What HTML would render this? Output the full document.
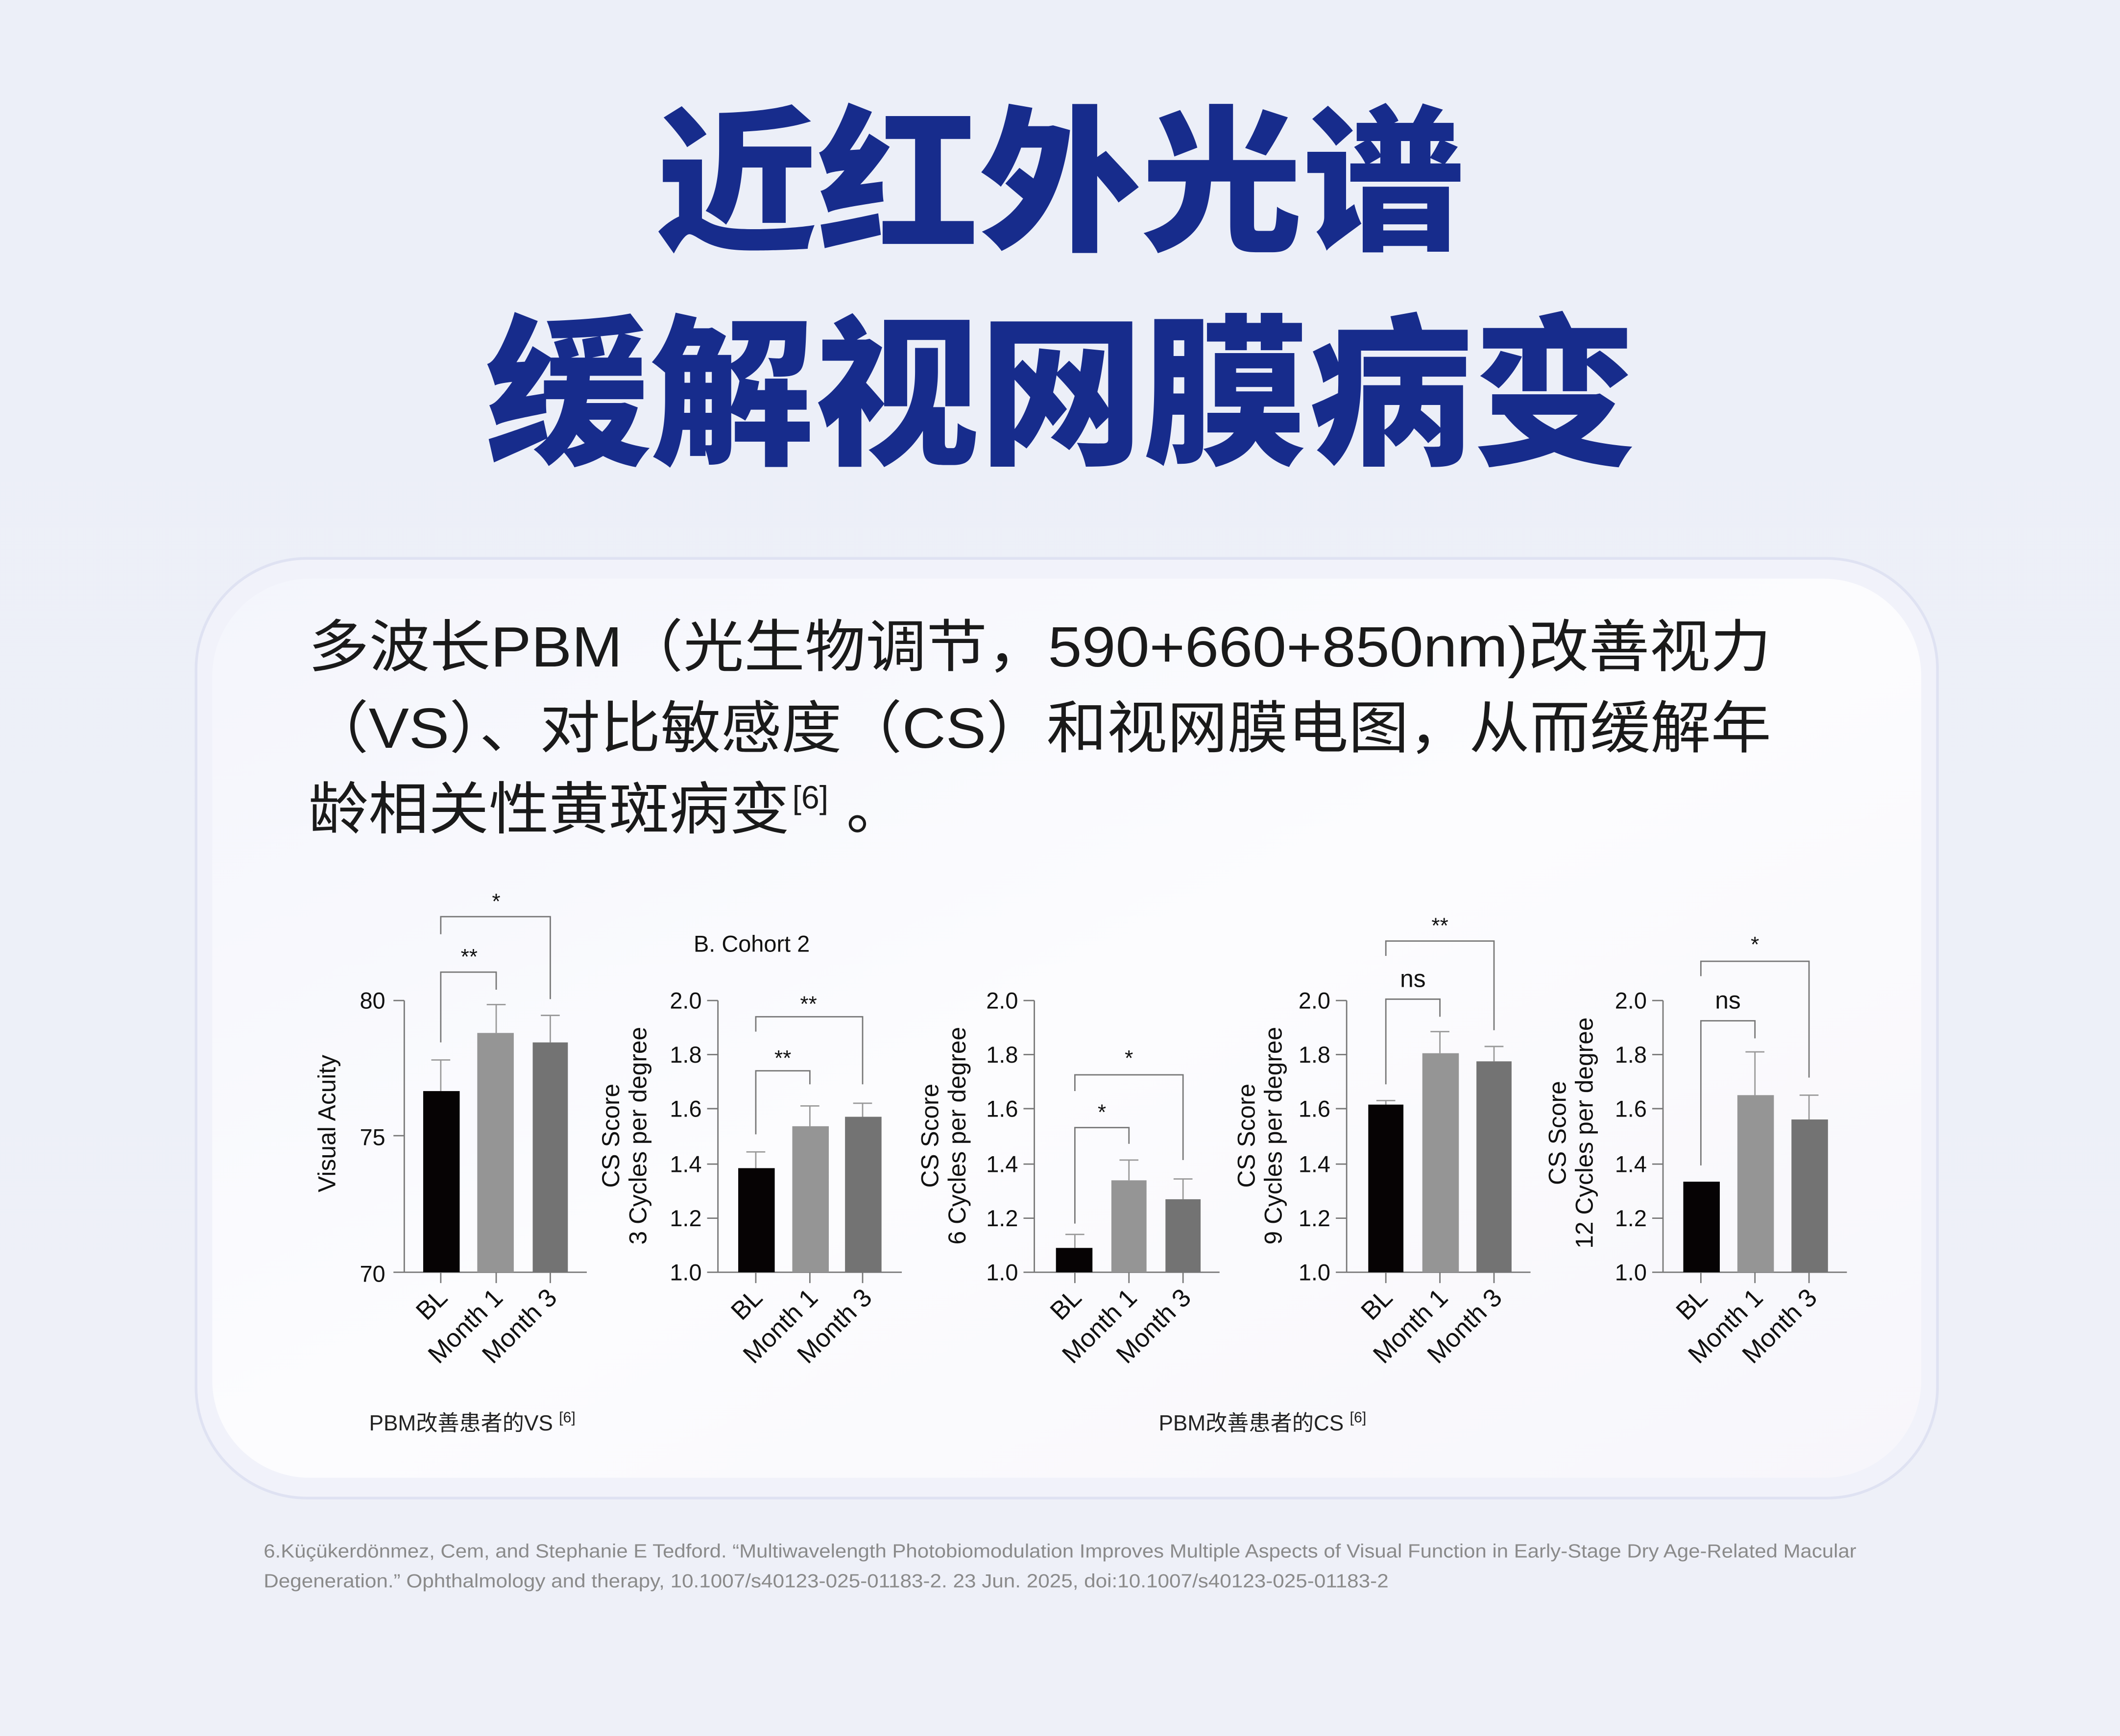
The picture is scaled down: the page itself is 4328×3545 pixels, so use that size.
<!DOCTYPE html>
<html><head><meta charset="utf-8"><style>
html,body{margin:0;padding:0;background:#eef0f8;}
svg{display:block}
text{font-family:"Liberation Sans","Noto Sans CJK SC",sans-serif;}
</style></head><body>
<svg width="4328" height="3545" viewBox="0 0 1568 1284" preserveAspectRatio="none" xmlns="http://www.w3.org/2000/svg">
<defs>
<linearGradient id="bg" x1="0" y1="0" x2="0" y2="1"><stop offset="0" stop-color="#eceff8"/><stop offset="1" stop-color="#eef0f8"/></linearGradient>
<linearGradient id="card" x1="0" y1="0" x2="1" y2="1"><stop offset="0" stop-color="#f4f5fc"/><stop offset="0.5" stop-color="#fcfcfe"/><stop offset="1" stop-color="#f7f6fb"/></linearGradient>
</defs>
<rect width="1568" height="1284" fill="url(#bg)"/>
<g font-weight="900" fill="#172c8c" text-anchor="middle">
<text x="784" y="176" font-size="116" textLength="598" lengthAdjust="spacingAndGlyphs">近红外光谱</text>
<text x="785" y="334" font-size="120" textLength="852" lengthAdjust="spacingAndGlyphs">缓解视网膜病变</text>
</g>
<rect x="145" y="413" width="1288" height="695" rx="82" fill="#f1f2fa" stroke="#dfe2f2" stroke-width="2"/>
<rect x="157" y="428" width="1264" height="665" rx="72" fill="url(#card)"/>
<g fill="#1a1a1a" font-size="42">
<text x="228" y="493" textLength="1082" lengthAdjust="spacingAndGlyphs">多波长PBM（光生物调节，590+660+850nm)改善视力</text>
<text x="228" y="553" textLength="1082" lengthAdjust="spacingAndGlyphs">（VS）、对比敏感度（CS）和视网膜电图，从而缓解年</text>
<text x="228" y="613" textLength="356" lengthAdjust="spacingAndGlyphs">龄相关性黄斑病变</text>
<text x="586" y="598" font-size="24">[6]</text>
<text x="626" y="613">。</text>
</g>
<g stroke="#777" stroke-width="1" fill="none">
<path d="M299 740V941H434M291 740H299M291 840H299M291 941H299M326 941V949M367 941V949M407 941V949"/>
<path d="M326 771V719H367V732M326 691V678H407V739"/>
<path d="M326 807V784M319 784H333M367 764V743M360 743H374M407 771V751M400 751H414" stroke="#999"/>
<path d="M531 740V941H667M523 740H531M523 780H531M523 820H531M523 861H531M523 901H531M523 941H531M559 941V949M599 941V949M638 941V949"/>
<path d="M559 839V792H599V802M559 763V752H638V802"/>
<path d="M559 864V852M552 852H566M599 833V818M592 818H606M638 826V816M631 816H645" stroke="#999"/>
<path d="M765 740V941H902M757 740H765M757 780H765M757 820H765M757 861H765M757 901H765M757 941H765M795 941V949M835 941V949M875 941V949"/>
<path d="M795 905V834H835V846M795 807V795H875V858"/>
<path d="M795 923V913M788 913H802M835 873V858M828 858H842M875 887V872M868 872H882" stroke="#999"/>
<path d="M996 740V941H1132M988 740H996M988 780H996M988 820H996M988 861H996M988 901H996M988 941H996M1025 941V949M1065 941V949M1105 941V949"/>
<path d="M1025 802V739H1065V752M1025 707V696H1105V762"/>
<path d="M1025 817V814M1018 814H1032M1065 779V763M1058 763H1072M1105 785V774M1098 774H1112" stroke="#999"/>
<path d="M1230 740V941H1366M1222 740H1230M1222 780H1230M1222 820H1230M1222 861H1230M1222 901H1230M1222 941H1230M1258 941V949M1298 941V949M1338 941V949"/>
<path d="M1258 862V755H1298V768M1258 722V711H1338V797"/>
<path d="M1298 810V778M1291 778H1305M1338 828V810M1331 810H1345" stroke="#999"/>
</g>
<g>
<rect x="313" y="807" width="27" height="134" fill="#060304"/><rect x="353" y="764" width="27" height="177" fill="#959595"/><rect x="394" y="771" width="26" height="170" fill="#737373"/>
<rect x="546" y="864" width="27" height="77" fill="#060304"/><rect x="586" y="833" width="27" height="108" fill="#959595"/><rect x="625" y="826" width="27" height="115" fill="#737373"/>
<rect x="781" y="923" width="27" height="18" fill="#060304"/><rect x="822" y="873" width="26" height="68" fill="#959595"/><rect x="862" y="887" width="26" height="54" fill="#737373"/>
<rect x="1012" y="817" width="26" height="124" fill="#060304"/><rect x="1052" y="779" width="27" height="162" fill="#959595"/><rect x="1092" y="785" width="26" height="156" fill="#737373"/>
<rect x="1245" y="874" width="27" height="67" fill="#060304"/><rect x="1285" y="810" width="27" height="131" fill="#959595"/><rect x="1325" y="828" width="27" height="113" fill="#737373"/>
</g>
<g fill="#111" font-size="17" text-anchor="end">
<text x="285" y="746">80</text><text x="285" y="847">75</text><text x="285" y="948">70</text>
<g id="yt"><text x="519" y="746">2.0</text><text x="519" y="786">1.8</text><text x="519" y="826">1.6</text><text x="519" y="867">1.4</text><text x="519" y="907">1.2</text><text x="519" y="947">1.0</text></g>
<use href="#yt" x="234"/><use href="#yt" x="465"/><use href="#yt" x="699"/>
</g>
<g fill="#111" font-size="19" text-anchor="end">
<g id="xl"><text transform="translate(332,961) rotate(-45)">BL</text><text transform="translate(373,961) rotate(-45)">Month 1</text><text transform="translate(413,961) rotate(-45)">Month 3</text></g>
<use href="#xl" x="233"/><use href="#xl" x="469"/><use href="#xl" x="699"/><use href="#xl" x="932"/>
</g>
<g fill="#111" font-size="18" text-anchor="middle">
<text transform="translate(248,831) rotate(-90)">Visual Acuity</text>
<text transform="translate(458,840) rotate(-90)">CS Score</text><text transform="translate(478,840) rotate(-90)">3 Cycles per degree</text>
<text transform="translate(694,840) rotate(-90)">CS Score</text><text transform="translate(714,840) rotate(-90)">6 Cycles per degree</text>
<text transform="translate(928,840) rotate(-90)">CS Score</text><text transform="translate(948,840) rotate(-90)">9 Cycles per degree</text>
<text transform="translate(1158,838) rotate(-90)">CS Score</text><text transform="translate(1178,838) rotate(-90)">12 Cycles per degree</text>
<text x="347" y="713" font-size="16">**</text><text x="367" y="672" font-size="16">*</text>
<text x="579" y="788" font-size="16">**</text><text x="598" y="748" font-size="16">**</text>
<text x="815" y="828" font-size="16">*</text><text x="835" y="788" font-size="16">*</text>
<text x="1045" y="730">ns</text><text x="1065" y="690" font-size="16">**</text>
<text x="1278" y="746">ns</text><text x="1298" y="704" font-size="16">*</text>
</g>
<text x="513" y="704" font-size="17" fill="#111">B. Cohort 2</text>
<g fill="#222" font-size="16">
<text x="273" y="1058">PBM改善患者的VS <tspan font-size="11" dy="-6">[6]</tspan></text>
<text x="857" y="1058">PBM改善患者的CS <tspan font-size="11" dy="-6">[6]</tspan></text>
</g>
<g fill="#8a8a8a" font-size="14">
<text x="195" y="1152" textLength="1178" lengthAdjust="spacingAndGlyphs">6.Küçükerdönmez, Cem, and Stephanie E Tedford. “Multiwavelength Photobiomodulation Improves Multiple Aspects of Visual Function in Early-Stage Dry Age-Related Macular</text>
<text x="195" y="1174" textLength="832" lengthAdjust="spacingAndGlyphs">Degeneration.” Ophthalmology and therapy, 10.1007/s40123-025-01183-2. 23 Jun. 2025, doi:10.1007/s40123-025-01183-2</text>
</g>
</svg>
</body></html>
